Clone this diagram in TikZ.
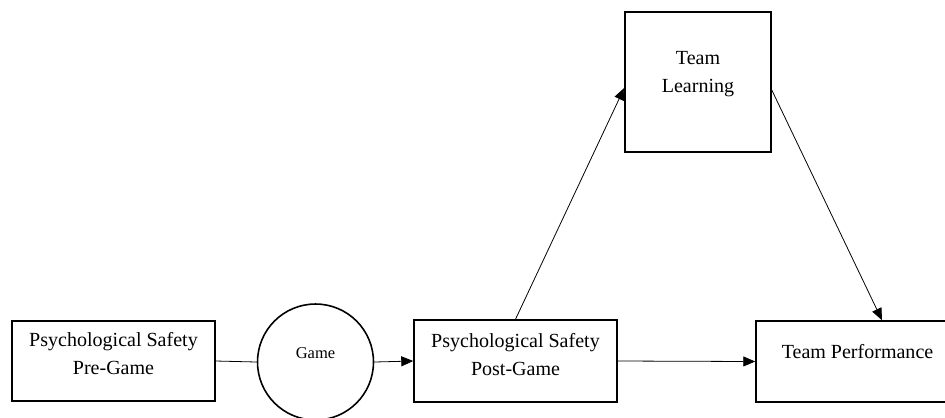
\documentclass[tikz,border=0pt]{standalone}
\usepackage{fontspec}
\setmainfont{Liberation Serif}
\usetikzlibrary{arrows.meta}

\tikzset{
	factor/.style = {draw, line width = 0.9pt, inner sep = 0pt, font = \fontsize{11.4}{15.9}\selectfont},
	game/.style = {draw, circle, line width = 0.9pt, inner sep = 0pt, minimum size = 2.32cm, font = \fontsize{9.4}{11}\selectfont},
	link/.style = {line width = 0.45pt},
	arrowlink/.style = {link, -{Triangle[length = 6.8pt, width = 5.7pt]}}
}
% width, height, first baseline, text
\newcommand{\boxtext}[4]{\parbox[c][#2][t]{#1}{\centering\rule{0pt}{#3}#4}}

\begin{document}
\begin{tikzpicture}[x = 0.02cm, y = -0.02cm]
	\useasboundingbox (0,0) rectangle (945,417);
	\clip (0,0) rectangle (945,417);
	\node [factor] (pre) at (113.5,361) {\boxtext{4.06cm}{1.6cm}{14.6pt}{Psychological Safety\\Pre-Game}};
	\node [game] (play) at (315.5,362) {\raisebox{0.18cm}[\height][\depth]{Game}};
	\node [factor] (post) at (515.5,361) {\boxtext{4.06cm}{1.64cm}{15.7pt}{Psychological Safety\\Post-Game}};
	\node [factor] (learn) at (698,82) {\boxtext{2.92cm}{2.8cm}{29.8pt}{Team\\Learning}};
	\node [factor] (perf) at (857.5,361.5) {\boxtext{4.06cm}{1.62cm}{21.4pt}{Team Performance}};
	\draw [link] (pre.east) -- (play.west);
	\draw [arrowlink] (play.east) -- (post.west);
	\draw [arrowlink] (post.north) -- ([yshift = -0.12cm]learn.west);
	\draw [arrowlink] ([yshift = -0.16cm]learn.east) -- ([xshift = 0.49cm]perf.north);
	\draw [arrowlink] (post.east) -- (perf.west);
\end{tikzpicture}
\end{document}
